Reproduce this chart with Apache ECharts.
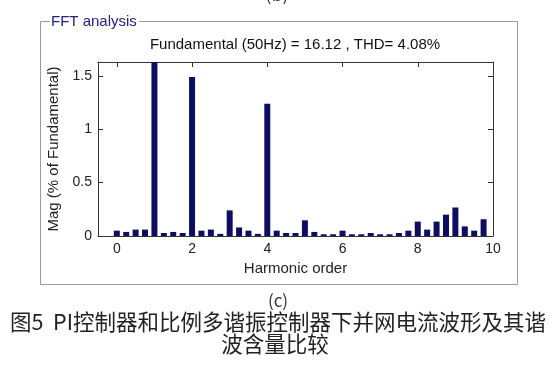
<!DOCTYPE html>
<html>
<head>
<meta charset="utf-8">
<script src="https://cdn.jsdelivr.net/npm/echarts@6/dist/echarts.min.js"></script>
<style>
html,body{margin:0;padding:0;background:#fff;}
#c{width:550px;height:369px;}
</style>
</head>
<body>
<div id="c"></div>
<script>
// ---- data ----
const harmonicOrder = [0, 0.25, 0.5, 0.75, 1, 1.25, 1.5, 1.75, 2, 2.25, 2.5, 2.75, 3, 3.25, 3.5, 3.75,
  4, 4.25, 4.5, 4.75, 5, 5.25, 5.5, 5.75, 6, 6.25, 6.5, 6.75, 7, 7.25, 7.5, 7.75,
  8, 8.25, 8.5, 8.75, 9, 9.25, 9.5, 9.75];
const magnitude = [0.05, 0.038, 0.06, 0.06, 1.7, 0.028, 0.038, 0.028, 1.49, 0.05, 0.06, 0.02, 0.24, 0.08, 0.05, 0.02,
  1.24, 0.05, 0.028, 0.028, 0.147, 0.038, 0.016, 0.016, 0.05, 0.016, 0.016, 0.028, 0.016, 0.016, 0.028, 0.05,
  0.135, 0.06, 0.135, 0.2, 0.267, 0.09, 0.05, 0.157];
const xTicks = [0, 2, 4, 6, 8, 10];
const yTicks = [0, 0.5, 1, 1.5];
const panelTitle = 'FFT analysis';
const plotTitle = 'Fundamental (50Hz) = 16.12 , THD= 4.08%';
const xName = 'Harmonic order';
const yName = 'Mag (% of Fundamental)';
const subLabel = '(c)';
const prevLabel = '(b)';
const captionLine1 = '图5  PI控制器和比例多谐振控制器下并网电流波形及其谐';
const captionLine2 = '波含量比较';

const FONT = '"Liberation Sans", Arial, sans-serif';
const CJK = '"Noto Sans CJK SC", sans-serif';
const axisColor = '#333';

const chart = echarts.init(document.getElementById('c'), null, {renderer: 'canvas'});

function xAxisCfg(pos, showLabel) {
  return {
    type: 'value', position: pos, min: -0.5, max: 10,
    axisLine: {show: true, onZero: false, lineStyle: {color: axisColor, width: 1}},
    axisTick: {show: true, inside: true, length: 5, customValues: xTicks, lineStyle: {color: axisColor}},
    axisLabel: {show: showLabel, customValues: xTicks, fontFamily: FONT, fontSize: 14, color: '#222', margin: 6},
    splitLine: {show: false},
    name: showLabel ? xName : '', nameLocation: 'middle', nameGap: 25,
    nameTextStyle: {fontFamily: FONT, fontSize: 15, color: '#222'}
  };
}
function yAxisCfg(pos, showLabel) {
  return {
    type: 'value', position: pos, min: 0, max: 1.63,
    axisLine: {show: true, onZero: false, lineStyle: {color: axisColor, width: 1}},
    axisTick: {show: true, inside: true, length: 5, customValues: yTicks, lineStyle: {color: axisColor}},
    axisLabel: {show: showLabel, customValues: yTicks, fontFamily: FONT, fontSize: 14, color: '#222', margin: 6},
    splitLine: {show: false},
    name: showLabel ? yName : '', nameLocation: 'middle', nameGap: 31,
    nameTextStyle: {fontFamily: FONT, fontSize: 15, color: '#222'}
  };
}

const option = {
  animation: false,
  backgroundColor: '#fff',
  grid: {left: 98, top: 62, right: 57, bottom: 133, containLabel: false},
  xAxis: [xAxisCfg('bottom', true), xAxisCfg('top', false)],
  yAxis: [yAxisCfg('left', true), yAxisCfg('right', false)],
  series: [{
    type: 'bar',
    xAxisIndex: 0, yAxisIndex: 0,
    data: harmonicOrder.map((h, i) => [h, magnitude[i]]),
    barWidth: 6,
    clip: true,
    itemStyle: {color: '#0d0d62'}
  }],
  graphic: [
    {type: 'rect', silent: true, z: -1, shape: {x: 40.5, y: 21.5, width: 477, height: 263},
     style: {fill: 'none', stroke: '#9a9a9a', lineWidth: 1}},
    {type: 'text', x: 50, y: 22, style: {text: panelTitle, font: '15px ' + FONT, fill: '#23237e',
      verticalAlign: 'middle', backgroundColor: '#fff', padding: [0, 2, 0, 1]}},
    {type: 'text', x: 295, y: 45, style: {text: plotTitle, font: '15px ' + FONT, fill: '#111',
      align: 'center', verticalAlign: 'middle'}},
    {type: 'text', x: 277, y: -6, style: {text: prevLabel, font: '18px ' + CJK, fill: '#333',
      align: 'center', verticalAlign: 'middle'}},
    {type: 'text', x: 278, y: 301, style: {text: subLabel, font: '17px ' + CJK, fill: '#333',
      align: 'center', verticalAlign: 'middle'}},
    {type: 'text', x: 278, y: 322, style: {text: captionLine1, font: '21.5px ' + CJK, fill: '#222',
      align: 'center', verticalAlign: 'middle'}},
    {type: 'text', x: 275, y: 344, style: {text: captionLine2, font: '21.5px ' + CJK, fill: '#222',
      align: 'center', verticalAlign: 'middle'}}
  ]
};
chart.setOption(option);
</script>
</body>
</html>
